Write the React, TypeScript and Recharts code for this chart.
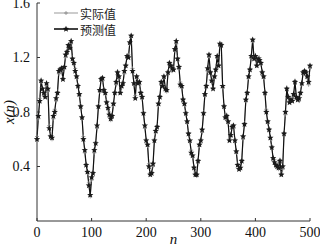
import React from "react";
import { LineChart, Line, XAxis, YAxis } from "recharts";

const nValues: number[] = Array.from({ length: 201 }, (_, i) => i * 2.5);

const actual: number[] = [
  0.62, 0.75, 0.9, 1.02, 0.98, 0.92, 0.93, 1.0, 0.95, 0.7,
  0.63, 0.6, 0.75, 0.82, 0.88, 0.95, 1.08, 1.12, 1.1, 1.05,
  1.12, 1.2, 1.25, 1.27, 1.28, 1.3, 1.2, 1.15, 1.12, 1.05,
  1.0, 0.92, 0.85, 0.75, 0.62, 0.5, 0.42, 0.35, 0.28, 0.18,
  0.3, 0.36, 0.5, 0.58, 0.68, 0.85, 0.95, 1.05, 1.03, 0.97,
  0.93, 0.88, 0.82, 0.8, 0.74, 0.78, 0.85, 0.95, 1.0, 1.1,
  1.05, 0.95, 0.98, 1.02, 1.08, 1.15, 1.2, 1.22, 1.3, 1.35,
  1.12, 1.0, 0.92, 1.05, 1.02, 1.0, 0.95, 0.9, 0.8, 0.68,
  0.6, 0.55, 0.42, 0.35, 0.36, 0.4, 0.6, 0.65, 0.7, 0.85,
  0.92, 1.0, 1.0, 1.05, 0.98, 0.95, 1.1, 1.15, 1.15, 1.1,
  1.12, 1.25, 1.3, 1.2, 1.12, 1.02, 0.98, 0.9, 0.85, 0.8,
  0.72, 0.65, 0.58, 0.52, 0.47, 0.4, 0.36, 0.33, 0.45, 0.55,
  0.6, 0.65, 0.8, 0.92, 1.0, 1.1, 1.2, 1.1, 1.02, 0.98,
  1.05, 1.12, 1.2, 1.15, 1.28, 1.3, 0.98, 0.85, 0.75, 0.78,
  0.72, 0.6, 0.62, 0.7, 0.68, 0.6, 0.5, 0.42, 0.4, 0.38,
  0.45, 0.6, 0.72, 0.88, 0.95, 1.05, 1.12, 1.2, 1.32, 1.2,
  1.2, 1.15, 1.18, 1.2, 1.15, 1.1, 1.05, 0.95, 0.82, 0.72,
  0.68, 0.6, 0.55, 0.45, 0.45, 0.4, 0.42, 0.38, 0.45, 0.35,
  0.38, 0.65, 0.78, 0.98, 0.9, 0.88, 0.88, 0.9, 0.92, 1.03,
  0.9, 0.9, 0.88, 0.95, 1.0, 1.1, 1.08, 1.1, 1.05, 1.0,
  1.12,
];

const predicted: number[] = [
  0.6, 0.77, 0.88, 1.03, 0.97, 0.94, 0.91, 1.01, 0.97, 0.68,
  0.62, 0.61, 0.77, 0.8, 0.9, 0.94, 1.1, 1.11, 1.12, 1.04,
  1.13, 1.22, 1.24, 1.29, 1.27, 1.32, 1.19, 1.16, 1.1, 1.06,
  0.99, 0.93, 0.84, 0.76, 0.6, 0.52, 0.41, 0.36, 0.26, 0.19,
  0.32, 0.35, 0.52, 0.57, 0.7, 0.84, 0.96, 1.04, 1.05, 0.96,
  0.94, 0.87, 0.83, 0.78, 0.75, 0.77, 0.86, 0.94, 1.02, 1.09,
  1.06, 0.94, 0.99, 1.01, 1.1, 1.14, 1.21, 1.2, 1.31, 1.36,
  1.1, 1.01, 0.9, 1.06, 1.01, 1.02, 0.94, 0.91, 0.79, 0.7,
  0.59, 0.56, 0.4, 0.34, 0.35, 0.42, 0.59, 0.66, 0.69, 0.86,
  0.91, 1.02, 0.99, 1.06, 0.97, 0.96, 1.09, 1.16, 1.14, 1.12,
  1.11, 1.26, 1.32, 1.19, 1.13, 1.0, 0.99, 0.89, 0.86, 0.79,
  0.73, 0.64, 0.59, 0.5, 0.48, 0.39, 0.34, 0.34, 0.44, 0.56,
  0.59, 0.67, 0.79, 0.93, 0.99, 1.12, 1.22, 1.09, 1.03, 0.97,
  1.06, 1.11, 1.21, 1.14, 1.3, 1.29, 0.99, 0.84, 0.76, 0.77,
  0.73, 0.59, 0.63, 0.69, 0.7, 0.59, 0.51, 0.41, 0.38, 0.39,
  0.44, 0.62, 0.71, 0.89, 0.94, 1.06, 1.11, 1.21, 1.33, 1.19,
  1.21, 1.14, 1.19, 1.18, 1.16, 1.09, 1.06, 0.94, 0.8, 0.73,
  0.67, 0.61, 0.54, 0.46, 0.43, 0.41, 0.4, 0.39, 0.44, 0.34,
  0.4, 0.64, 0.8, 0.97, 0.91, 0.87, 0.89, 0.88, 0.93, 1.02,
  0.91, 0.89, 0.9, 0.94, 1.01, 1.09, 1.1, 1.09, 1.06, 1.02,
  1.14,
];

const xTicks: number[] = [0, 100, 200, 300, 400, 500];
const yTicks: number[] = [0.4, 0.8, 1.2, 1.6];
const seriesNames: string[] = ["实际值", "预测值"];

const data = nValues.map((n, i) => ({ n, actual: actual[i], predicted: predicted[i] }));

const starPath = (cx: number, cy: number, r: number) => {
  const pts: string[] = [];
  for (let k = 0; k < 10; k++) {
    const rad = k % 2 === 0 ? r : r * 0.45;
    const a = -Math.PI / 2 + (k * Math.PI) / 5;
    pts.push(`${(cx + rad * Math.cos(a)).toFixed(2)},${(cy + rad * Math.sin(a)).toFixed(2)}`);
  }
  return `M${pts.join("L")}Z`;
};

const StarDot = (props: any) => {
  const { cx, cy, index } = props;
  if (cx == null || cy == null) return <g key={index} />;
  return <path key={index} d={starPath(cx, cy, 3.3)} fill="#1a1a1a" stroke="none" />;
};

const PlusDot = (props: any) => {
  const { cx, cy, index } = props;
  if (cx == null || cy == null) return <g key={index} />;
  return (
    <path key={index} d={`M${cx - 2},${cy}H${cx + 2}M${cx},${cy - 2}V${cy + 2}`} stroke="#888" strokeWidth={0.8} />
  );
};

const font = "Liberation Serif";
const cjk = "Noto Sans CJK SC";

const YLabel = () => (
  <text
    x={0}
    y={0}
    transform="translate(9,112) rotate(-90)"
    textAnchor="middle"
    dominantBaseline="central"
    fontSize={15}
    fontStyle="italic"
    fontFamily={font}
    fill="#111"
  >
    x(n)
  </text>
);

const LegendBox = () => (
  <svg width={90} height={38} style={{ position: "absolute", left: 52, top: 1 }}>
    <line x1={2} y1={12} x2={26} y2={12} stroke="#999" strokeWidth={1} />
    <path d="M12,12H16M14,10V14" stroke="#888" strokeWidth={0.8} />
    <text x={28} y={12} dominantBaseline="central" fontSize={12} fontFamily={cjk} fill="#222">{seriesNames[0]}</text>
    <line x1={2} y1={28} x2={26} y2={28} stroke="#111" strokeWidth={1.6} />
    <path d={starPath(14, 28, 3.3)} fill="#111" />
    <text x={28} y={28} dominantBaseline="central" fontSize={12} fontFamily={cjk} fill="#222">{seriesNames[1]}</text>
  </svg>
);

export default function App() {
  return (
    <div style={{ position: "absolute", left: 0, top: 0, width: 320, height: 246, background: "#fff", fontFamily: font }}>
      <LineChart width={320} height={246} data={data} margin={{ top: 3, right: 10, left: 0, bottom: 0 }} style={{ fontFamily: font }}>
        <XAxis
          dataKey="n"
          type="number"
          domain={[0, 500]}
          ticks={xTicks}
          tickSize={-3}
          tickMargin={9}
          stroke="#333"
          tick={{ fill: "#111", fontSize: 14, fontFamily: font }}
          height={25}
          interval={0}
          label={{ value: "n", position: "insideBottom", offset: 2, fontStyle: "italic", fontSize: 15, fontFamily: font, fill: "#111" }}
        />
        <XAxis xAxisId="top" orientation="top" dataKey="n" type="number" domain={[0, 500]} tick={false} tickLine={false} stroke="#333" height={0} />
        <YAxis
          type="number"
          domain={[0, 1.6]}
          ticks={yTicks}
          tickSize={-3}
          tickMargin={10}
          stroke="#333"
          tick={{ fill: "#111", fontSize: 14, fontFamily: font }}
          width={37}
          interval={0}
          label={<YLabel />}
        />
        <YAxis yAxisId="right" orientation="right" domain={[0, 1.6]} tick={false} tickLine={false} stroke="#333" width={0} />
        <Line dataKey="actual" stroke="#999" strokeWidth={0.8} dot={<PlusDot />} isAnimationActive={false} />
        <Line dataKey="predicted" stroke="#111" strokeWidth={1.2} dot={<StarDot />} isAnimationActive={false} />
      </LineChart>
      <LegendBox />
    </div>
  );
}
